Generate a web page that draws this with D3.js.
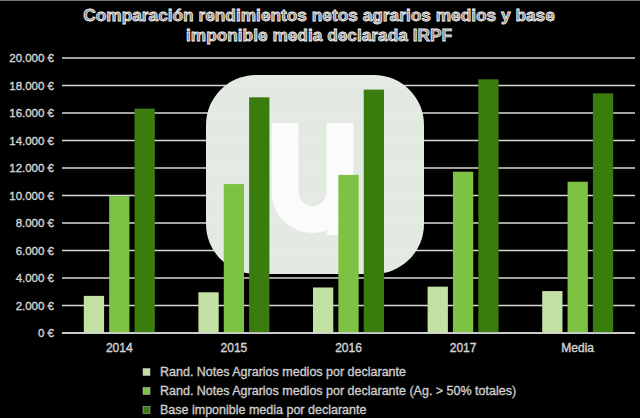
<!DOCTYPE html>
<html><head><meta charset="utf-8">
<script src="https://cdn.jsdelivr.net/npm/d3@7"></script>
<style>html,body{margin:0;padding:0;background:#000;}svg{display:block;}</style>
</head><body>
<script>
const categories = ["2014", "2015", "2016", "2017", "Media"];
const seriesNames = [
  "Rand. Notes Agrarios medios por declarante",
  "Rand. Notes Agrarios medios por declarante (Ag. > 50% totales)",
  "Base imponible media por declarante"
];
const rendMedios = [2700, 2960, 3310, 3370, 3050];
const rendAgr50 = [9960, 10830, 11500, 11730, 11000];
const baseImponible = [16320, 17140, 17700, 18450, 17430];
const yTicks = [0, 2000, 4000, 6000, 8000, 10000, 12000, 14000, 16000, 18000, 20000];
const titleLines = ["Comparación rendimientos netos agrarios medios y base", "imponible media declarada IRPF"];
const colors = ["#c4e1a4", "#7dc242", "#3a7d0e"];

const W = 640, H = 418;
const svg = d3.select("body").append("svg").attr("width", W).attr("height", H);
svg.append("rect").attr("width", W).attr("height", H).attr("fill", "#000");
svg.append("line").attr("x1",0).attr("x2",W).attr("y1",0.5).attr("y2",0.5).attr("stroke","#777");

const pLeft = 62, pRight = 635, pTop = 58, pBottom = 333;
const y = d3.scaleLinear().domain([0, 20000]).range([pBottom, pTop]);
const x0 = d3.scaleBand().domain(categories).range([pLeft, pRight]).padding(0);
const groupW = 71;
const x1 = d3.scaleBand().domain(d3.range(3))
  .range([(x0.bandwidth() - groupW) / 2, (x0.bandwidth() + groupW) / 2]).paddingInner(0.2);

const loc = d3.formatLocale({decimal: ",", thousands: ".", grouping: [3], currency: ["", " €"]});
const fmt = v => loc.format(",")(v) + " €";
const FONT = "Liberation Sans, Arial, sans-serif";

// gridlines
svg.append("g").selectAll("line").data(yTicks).join("line")
  .attr("x1", pLeft).attr("x2", pRight)
  .attr("y1", d => y(d)).attr("y2", d => y(d))
  .attr("stroke", "#d9d9d9").attr("stroke-width", 1.5);

// y labels
svg.append("g").selectAll("text").data(yTicks).join("text")
  .attr("x", 54).attr("y", d => y(d)).attr("dy", "0.35em")
  .attr("text-anchor", "end")
  .attr("font-family", FONT).attr("font-size", 11.5)
  .attr("fill", "#bdbdbd").attr("stroke", "#e6e6e6").attr("stroke-width", 0.35)
  .text(fmt);

// watermark logo
const logo = svg.append("g").attr("opacity", 0.985);
logo.append("rect").attr("x", 206).attr("y", 75).attr("width", 218).attr("height", 199)
  .attr("rx", 50).attr("ry", 50).attr("fill", "#e7eee5");
logo.append("path")
  .attr("d", "M285,123 L285,192 A27,27 0 0 0 340,192 L340,123")
  .attr("fill", "none").attr("stroke", "#fff").attr("stroke-width", 27);
logo.append("rect").attr("x", 327).attr("y", 190).attr("width", 30).attr("height", 45).attr("fill", "#fff");

// bars
const allSeries = [rendMedios, rendAgr50, baseImponible];
const groups = svg.append("g").selectAll("g").data(categories).join("g")
  .attr("transform", d => `translate(${x0(d)},0)`);
groups.selectAll("rect").data((d, i) => allSeries.map((s, k) => ({k, v: s[i]}))).join("rect")
  .attr("x", d => x1(d.k)).attr("width", x1.bandwidth())
  .attr("y", d => y(d.v)).attr("height", d => y(0) - y(d.v))
  .attr("fill", d => colors[d.k]);

// baseline
svg.append("line").attr("x1", pLeft).attr("x2", pRight).attr("y1", y(0)).attr("y2", y(0))
  .attr("stroke", "#d9d9d9").attr("stroke-width", 1.5);

// x labels
svg.append("g").selectAll("text").data(categories).join("text")
  .attr("x", d => x0(d) + x0.bandwidth() / 2).attr("y", 348).attr("dy", "0.35em")
  .attr("text-anchor", "middle")
  .attr("font-family", FONT).attr("font-size", 12)
  .attr("fill", "#bdbdbd").attr("stroke", "#e6e6e6").attr("stroke-width", 0.35)
  .text(d => d);

// title
svg.append("g").selectAll("text").data(titleLines).join("text")
  .attr("x", 319).attr("y", (d, i) => 21 + i * 20)
  .attr("text-anchor", "middle")
  .attr("font-family", FONT).attr("font-size", 17.3).attr("font-weight", "bold")
  .attr("fill", "#8a8a8a").attr("stroke", "#f2f2f2").attr("stroke-width", 0.8)
  .text(d => d);

// legend
const lg = svg.append("g").selectAll("g").data(seriesNames).join("g")
  .attr("transform", (d, i) => `translate(143,${372 + i * 19})`);
lg.append("rect").attr("x", 0).attr("y", -3.5).attr("width", 7).attr("height", 7)
  .attr("fill", (d, i) => colors[i]).attr("stroke", "#ccc").attr("stroke-width", 0.5);
lg.append("text").attr("x", 17).attr("y", 0).attr("dy", "0.35em")
  .attr("font-family", FONT).attr("font-size", 12.5)
  .attr("fill", "#bdbdbd").attr("stroke", "#e6e6e6").attr("stroke-width", 0.3)
  .text(d => d);
</script>
</body></html>
